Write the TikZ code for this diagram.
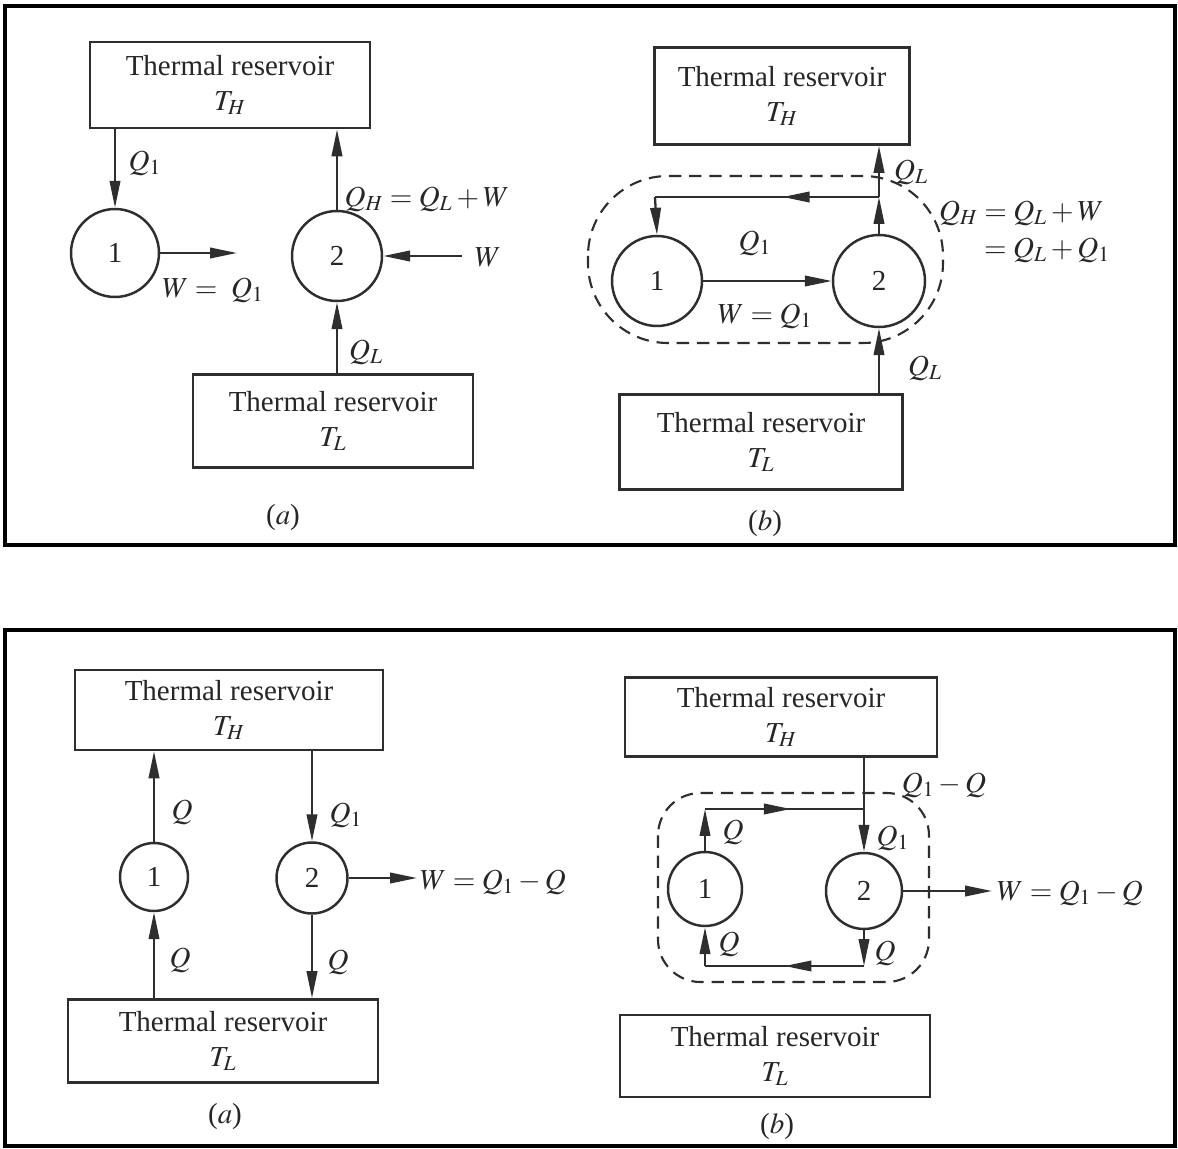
\documentclass[tikz,border=0pt]{standalone}
\usepackage{mathptmx}
\usepackage{fontspec}
\setmainfont{Liberation Serif}
\usetikzlibrary{arrows.meta,decorations.markings}
\tikzset{
  tip/.tip={Triangle[length=0.54cm,width=0.21cm]},
  flow/.style={draw=black!82,line width=1.3pt,-tip},
  plain/.style={draw=black!82,line width=1.3pt},
  midarrow/.style={draw=black!82,line width=1.3pt,postaction={decorate},
    decoration={markings,mark=at position #1 with {\arrow{tip}}}},
  res/.style={draw=black!82,line width=1.5pt,align=center,inner sep=0pt,text=black!85},
  eng/.style={draw=black!82,circle,line width=1.4pt,inner sep=0pt,text=black!85},
  lab/.style={text=black!85,inner sep=1pt},
  encl/.style={draw=black!82,line width=1.2pt,dash pattern=on 7pt off 4.5pt},
  frm/.style={draw=black,line width=2.4pt}
}
\begin{document}
\begin{tikzpicture}[x=0.02cm,y=-0.02cm,every node/.style={font=\fontsize{16.5}{20}\selectfont}]
\useasboundingbox (0,0) rectangle (1178,1149);
\fill[white] (0,0) rectangle (1178,1149);
% frames
\draw[frm] (5,6) rectangle (1175,545);
\draw[frm] (5,630) rectangle (1175,1146);

% ---------- top (a) ----------
\node[res,minimum width=5.6cm,minimum height=1.72cm] (THa) at (230,85) {Thermal reservoir\\ $T_H$};
\node[res,minimum width=5.6cm,minimum height=1.86cm] (TLa) at (333,421) {Thermal reservoir\\ $T_L$};
\node[eng,minimum size=1.76cm] (c1a) at (115,253) {1};
\node[eng,minimum size=1.8cm] (c2a) at (337,256) {2};
\coordinate (wouta) at (237,253);
\coordinate (wina) at (462,256);
\draw[flow] (c1a |- THa.south) -- (c1a.north);
\draw[flow] (c1a.east) -- (wouta);
\draw[flow] (c2a.north) -- (c2a |- THa.south);
\draw[flow] (wina) -- (c2a.east);
\draw[flow] (c2a |- TLa.north) -- (c2a.south);
\node[lab] (la1) at (145,163) {$Q_1$};
\node[lab] (la2) at (213,290) {$W =\ Q_1$};
\node[lab] (la3) at (427,199) {$Q_H = Q_L + W$};
\node[lab] (la4) at (488,257) {$W$};
\node[lab] (la5) at (366,352) {$Q_L$};
\node[lab] (capa) at (283,518) {($a$)};

% ---------- top (b) ----------
\node[res,minimum width=5.1cm,minimum height=1.94cm] (THb) at (782,96) {Thermal reservoir\\ $T_H$};
\node[res,minimum width=5.66cm,minimum height=1.9cm] (TLb) at (761,442) {Thermal reservoir\\ $T_L$};
\node[eng,minimum size=1.8cm] (c1b) at (657,281) {1};
\node[eng,minimum size=1.84cm] (c2b) at (879,281) {2};
\coordinate (jb) at (879,197);
\coordinate (kb) at (655,197);
\draw[encl,rounded corners=1.6cm] (588,176) rectangle (943,343);
\draw[flow] (c2b.north) -- (jb);
\draw[flow] (jb) -- (c2b |- THb.south);
\draw[midarrow=0.43] (jb) -- (kb);
\draw[flow] (kb) -- (c1b.north);
\draw[flow] (c1b.east) -- (c2b.west);
\draw[flow] (c2b |- TLb.north) -- (c2b.south);
\node[lab] (lb1) at (911,172) {$Q_L$};
\node[lab] (lb2) at (755,243) {$Q_1$};
\node[lab] (lb3) at (765,316) {$W = Q_1$};
\node[lab,anchor=west] (lb4) at (937,213) {$Q_H = Q_L + W$};
\node[lab,anchor=west] (lb5) at (982,250) {$= Q_L + Q_1$};
\node[lab] (lb6) at (925,368) {$Q_L$};
\node[lab] (capb) at (765,524) {($b$)};

% ---------- bottom (a) ----------
\node[res,minimum width=6.16cm,minimum height=1.6cm] (THc) at (229,710) {Thermal reservoir\\ $T_H$};
\node[res,minimum width=6.2cm,minimum height=1.66cm] (TLc) at (223,1041) {Thermal reservoir\\ $T_L$};
\node[eng,minimum size=1.36cm] (c1c) at (154,877) {1};
\node[eng,minimum size=1.42cm] (c2c) at (312,878) {2};
\coordinate (woutc) at (417,878);
\draw[flow] (c1c.north) -- (c1c |- THc.south);
\draw[flow] (c1c |- TLc.north) -- (c1c.south);
\draw[flow] (c2c |- THc.south) -- (c2c.north);
\draw[flow] (c2c.south) -- (c2c |- TLc.north);
\draw[flow] (c2c.east) -- (woutc);
\node[lab] (lc1) at (182,812) {$Q$};
\node[lab] (lc2) at (180,960) {$Q$};
\node[lab] (lc3) at (346,815) {$Q_1$};
\node[lab] (lc4) at (338,962) {$Q$};
\node[lab,anchor=west] (lc5) at (418,882) {$W = Q_1 - Q$};
\node[lab] (capc) at (225,1117) {($a$)};

% ---------- bottom (b) ----------
\node[res,minimum width=6.24cm,minimum height=1.58cm] (THd) at (781,717) {Thermal reservoir\\ $T_H$};
\node[res,minimum width=6.2cm,minimum height=1.64cm] (TLd) at (775,1056) {Thermal reservoir\\ $T_L$};
\node[eng,minimum size=1.48cm] (c1d) at (705,889) {1};
\node[eng,minimum size=1.52cm] (c2d) at (864,891) {2};
\coordinate (jd) at (864,809);
\coordinate (kd) at (705,809);
\coordinate (md) at (705,966);
\coordinate (nd) at (864,966);
\coordinate (woutd) at (992,891);
\draw[encl,rounded corners=0.85cm] (658,793) rectangle (929,982);
\draw[plain] (c2d |- THd.south) -- (jd);
\draw[flow] (jd) -- (c2d.north);
\draw[flow] (c1d.north) -- (kd);
\draw[midarrow=0.54] (kd) -- (jd);
\draw[flow] (c2d.south) -- (nd);
\draw[midarrow=0.5] (nd) -- (md);
\draw[flow] (md) -- (c1d.south);
\draw[flow] (c2d.east) -- (woutd);
\node[lab] (ld1) at (944,785) {$Q_1 - Q$};
\node[lab] (ld2) at (733,832) {$Q$};
\node[lab] (ld3) at (893,838) {$Q_1$};
\node[lab] (ld4) at (729,944) {$Q$};
\node[lab] (ld5) at (885,953) {$Q$};
\node[lab,anchor=west] (ld6) at (995,893) {$W = Q_1 - Q$};
\node[lab] (capd) at (777,1127) {($b$)};
\end{tikzpicture}
\end{document}
